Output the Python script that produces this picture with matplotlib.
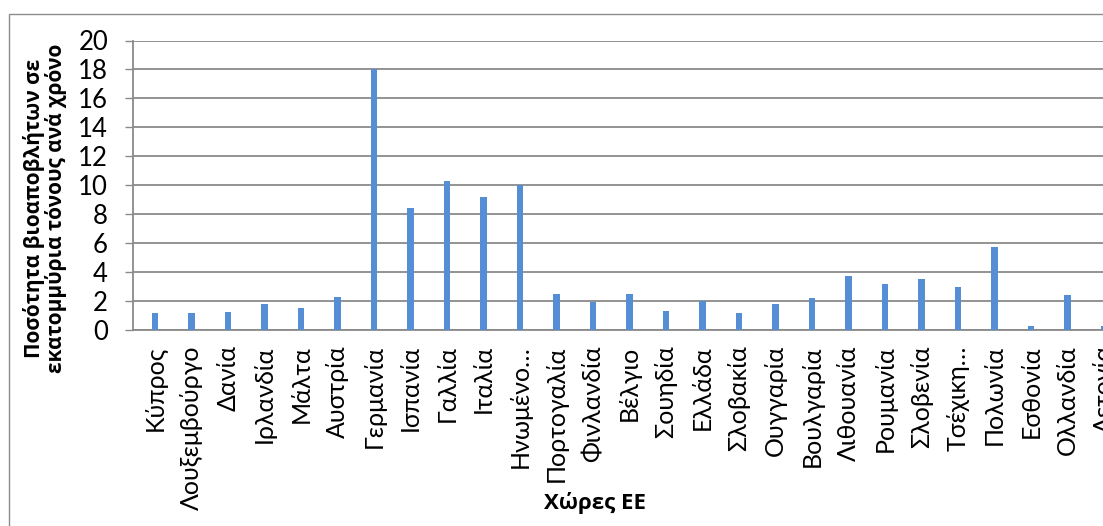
import matplotlib
matplotlib.use("Agg")
import matplotlib.pyplot as plt
from matplotlib.patches import Rectangle

# Bio-waste per EU country (million tonnes per year)
countries = ["Κύπρος", "Λουξεμβούργο", "Δανία", "Ιρλανδία", "Μάλτα", "Αυστρία",
             "Γερμανία", "Ισπανία", "Γαλλία", "Ιταλία", "Ηνωμένο…", "Πορτογαλία",
             "Φινλανδία", "Βέλγιο", "Σουηδία", "Ελλάδα", "Σλοβακία", "Ουγγαρία",
             "Βουλγαρία", "Λιθουανία", "Ρουμανία", "Σλοβενία", "Τσέχικη…", "Πολωνία",
             "Εσθονία", "Ολλανδία", "Λετονία"]
biowaste = [1.2, 1.2, 1.25, 1.8, 1.5, 2.3,
            18.0, 8.4, 10.3, 9.2, 10.0, 2.5,
            1.9, 2.5, 1.3, 2.0, 1.2, 1.8,
            2.2, 3.7, 3.2, 3.5, 3.0, 5.7,
            0.25, 2.4, 0.25]
yticks = list(range(0, 21, 2))

plt.rcParams["font.family"] = ["Lato", "Open Sans", "DejaVu Sans"]
BOLD_FONT = ["Open Sans", "DejaVu Sans"]

W, H = 1103, 526
fig = plt.figure(figsize=(W / 100, H / 100), dpi=100)

# chart frame (runs off the right and bottom edges)
fig.patches.append(Rectangle((9 / W, -0.1), 1.2, 1 - 14 / H + 0.1,
                             transform=fig.transFigure, fill=False,
                             edgecolor="#8c8c8c", linewidth=1.0))

left_px, right_px, top_px, zero_px = 133, 1125, 40.5, 330
ax = fig.add_axes([left_px / W, 1 - zero_px / H,
                   (right_px - left_px) / W, (zero_px - top_px) / H])

step = 36.5
x0 = -(155 - left_px) / step
ax.set_xlim(x0, x0 + (right_px - left_px) / step)
ax.set_ylim(0, 20)

ax.bar(range(len(countries)), biowaste, width=0.18, color="#558ed5", zorder=3)

ax.set_yticks(yticks)
ax.set_yticklabels([str(t) for t in yticks], fontsize=18.5)
ax.set_xticks(range(len(countries)))
ax.set_xticklabels(countries, rotation=90, fontsize=18, va="top", ha="center")
ax.tick_params(axis="x", length=0, pad=11)
ax.tick_params(axis="y", length=6, width=1, color="#8a8a8a", pad=12)

ax.grid(axis="y", color="#8a8a8a", linewidth=1.3, zorder=0)
for side in ["top", "right"]:
    ax.spines[side].set_visible(False)
for side in ["left", "bottom"]:
    ax.spines[side].set_color("#8a8a8a")
    ax.spines[side].set_linewidth(1.3)

fig.text(45 / W, 1 - 208 / H,
         "Ποσότητα βιοαποβλήτων σε\nεκατομμύρια τόνους ανά χρόνο",
         rotation=90, fontsize=15, fontweight="bold", family=BOLD_FONT,
         ha="center", va="center", multialignment="center", linespacing=1.05)
fig.text(595 / W, 1 - 503 / H, "Χώρες ΕΕ", fontsize=16, fontweight="bold",
         family=BOLD_FONT, ha="center", va="center")

fig.savefig("out.png", dpi=100)
